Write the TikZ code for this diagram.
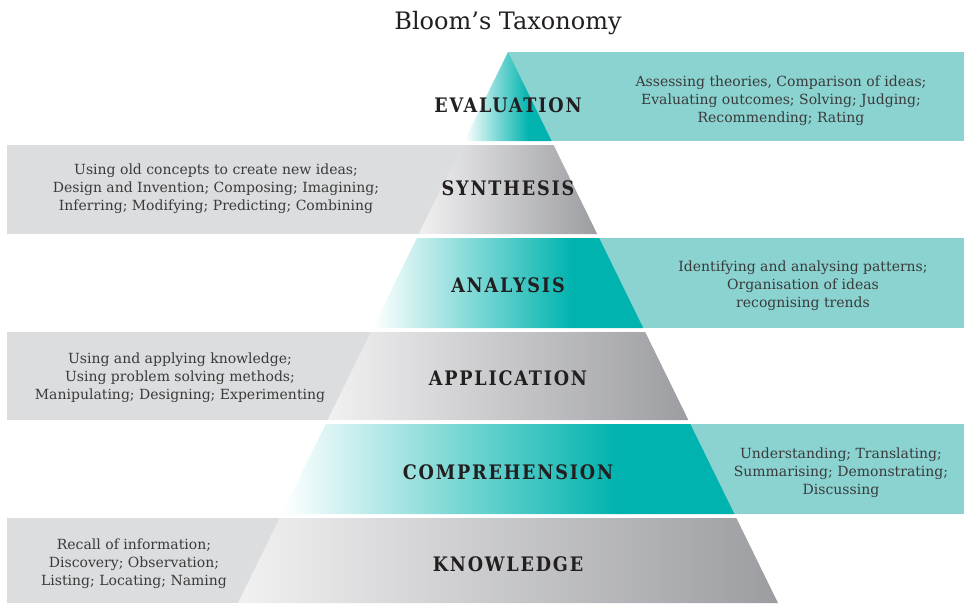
\documentclass[tikz,border=0pt]{standalone}
\usepackage{fontspec}
\setmainfont{DejaVu Serif}
\newfontfamily\labfont[FakeStretch=0.88,LetterSpace=9]{DejaVu Serif}
\usetikzlibrary{calc}
\definecolor{grayL}{HTML}{F1F1F2}
\definecolor{grayD}{HTML}{9C9DA1}
\definecolor{grayBox}{HTML}{DCDDDF}
\definecolor{tealD}{HTML}{00B3AE}
\definecolor{tealBox}{HTML}{8AD3D1}
\definecolor{txt}{HTML}{3A3A3A}
\definecolor{labtxt}{HTML}{231F20}
\pgfdeclarehorizontalshading{tealband}{100bp}{color(0bp)=(white); color(25bp)=(white); color(62bp)=(tealD); color(100bp)=(tealD)}
\pgfdeclarehorizontalshading{grayband}{100bp}{color(0bp)=(grayL); color(25bp)=(grayL); color(75bp)=(grayD); color(100bp)=(grayD)}
\tikzset{
  sidetext/.style={align=center, text=txt, font=\fontsize{14}{18}\selectfont, inner sep=0pt},
  levellabel/.style={text=labtxt, font=\labfont\bfseries\fontsize{20}{22}\selectfont, inner sep=0pt},
  graybox/.style={fill=grayBox, draw=none},
  tealbox/.style={fill=tealBox, draw=none},
}
% trapezoid band of the pyramid: #1 top y, #2 bottom y, #3 shading
\newcommand\pyrband[3]{%
  \shade[shading=#3]
    ({508-0.49*(#1-52)},#1) -- ({508+0.49*(#1-52)},#1) --
    ({508+0.49*(#2-52)},#2) -- ({508-0.49*(#2-52)},#2) -- cycle;}
\begin{document}
\begin{tikzpicture}[x=1pt,y=-1pt]
\useasboundingbox (0,0) rectangle (964,603);
% side boxes
\fill[tealbox] (508,52) rectangle (964,141);
\fill[graybox] (7,145) rectangle (508,234);
\fill[tealbox] (508,238) rectangle (964,328);
\fill[graybox] (7,332) rectangle (508,420);
\fill[tealbox] (508,424) rectangle (964,514);
\fill[graybox] (7,518) rectangle (508,603);
% pyramid bands
\pyrband{52}{141}{tealband}
\pyrband{145}{234}{grayband}
\pyrband{238}{328}{tealband}
\pyrband{332}{420}{grayband}
\pyrband{424}{514}{tealband}
\pyrband{518}{603}{grayband}
% title
\node[text=labtxt, font=\fontsize{24}{26}\selectfont, inner sep=0pt] (title) at (508,23) {Bloom’s Taxonomy};
% level labels
\node[levellabel] (eval) at (508,105) {EVALUATION};
\node[levellabel] (synth) at (508,188) {SYNTHESIS};
\node[levellabel] (anal) at (508,285) {ANALYSIS};
\node[levellabel] (appl) at (508,378) {APPLICATION};
\node[levellabel] (comp) at (508,472) {COMPREHENSION};
\node[levellabel] (know) at (508,564) {KNOWLEDGE};
% side texts
\node[sidetext] (evalt) at (781,101) {Assessing theories, Comparison of ideas;\\Evaluating outcomes; Solving; Judging;\\Recommending; Rating};
\node[sidetext] (syntht) at (216,189) {Using old concepts to create new ideas;\\Design and Invention; Composing; Imagining;\\Inferring; Modifying; Predicting; Combining};
\node[sidetext] (analt) at (803,286) {Identifying and analysing patterns;\\Organisation of ideas\\recognising trends};
\node[sidetext] (applt) at (180,378) {Using and applying knowledge;\\Using problem solving methods;\\Manipulating; Designing; Experimenting};
\node[sidetext] (compt) at (841,473) {Understanding; Translating;\\Summarising; Demonstrating;\\Discussing};
\node[sidetext] (knowt) at (134,564) {Recall of information;\\Discovery; Observation;\\Listing; Locating; Naming};
\end{tikzpicture}
\end{document}
